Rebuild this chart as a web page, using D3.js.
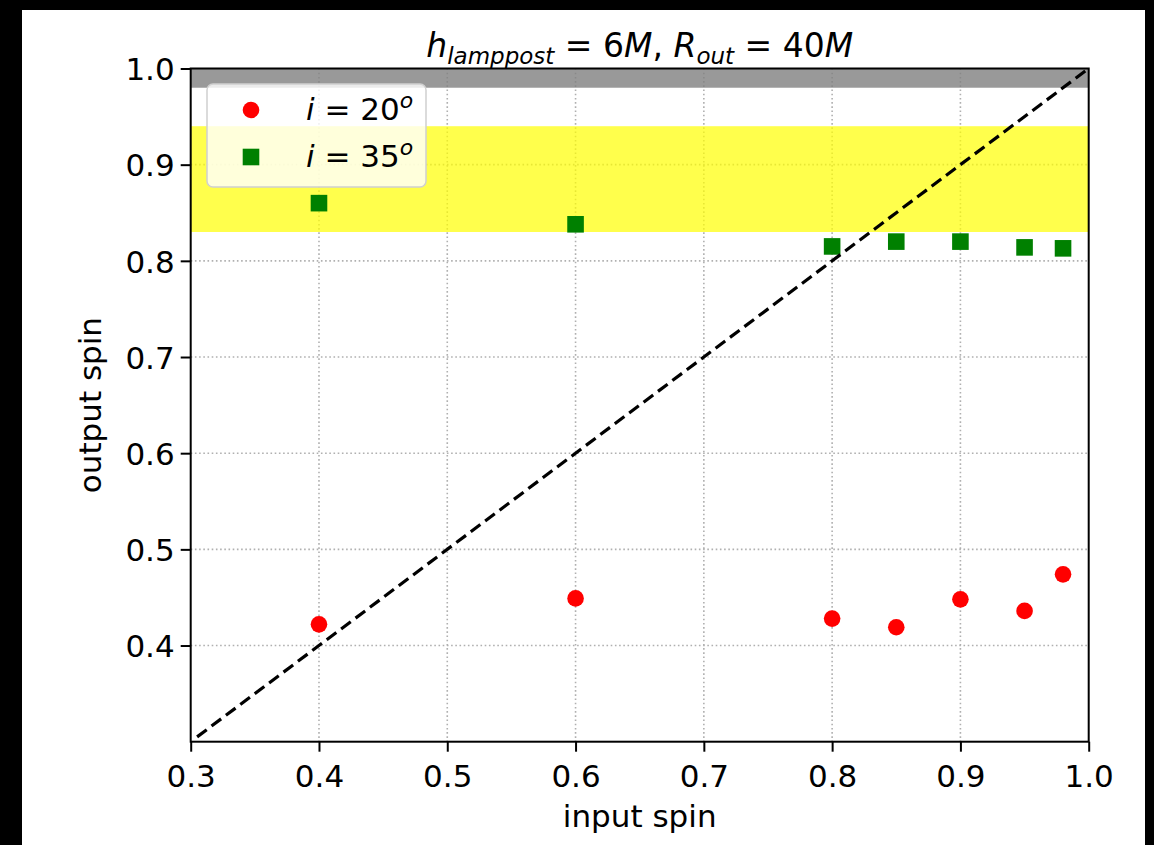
<!DOCTYPE html>
<html lang="en">
<head>
<meta charset="utf-8">
<title>output vs input spin</title>
<script src="https://cdn.jsdelivr.net/npm/d3@7"></script>
<style>
  html, body { margin: 0; padding: 0; background: #000; }
  svg text { font-family: "DejaVu Sans", sans-serif; fill: #000; }
</style>
</head>
<body>
<script>
// values
var inputSpin = [0.4, 0.6, 0.8, 0.85, 0.9, 0.95, 0.98];
var outSpin20 = [0.422, 0.449, 0.428, 0.419, 0.448, 0.436, 0.474];
var outSpin35 = [0.860, 0.838, 0.815, 0.820, 0.820, 0.814, 0.813];
var xTicks = [0.3, 0.4, 0.5, 0.6, 0.7, 0.8, 0.9, 1.0];
var yTicks = [0.4, 0.5, 0.6, 0.7, 0.8, 0.9, 1.0];
var grayBand = [0.98, 1.0];
var yellowBand = [0.83, 0.94];
var legendAngles = ['20', '35'];

var w = 1154, h = 845;
var plot = {left: 190.7, right: 1088.7, top: 68.5, bottom: 741.7};

var svg = d3.select('body').append('svg').attr('width', w).attr('height', h);
svg.append('rect').attr('width', w).attr('height', h).attr('fill', '#000');
svg.append('rect').attr('x', 22).attr('y', 10).attr('width', 1123).attr('height', h - 10).attr('fill', '#fff');

var x = d3.scaleLinear().domain([0.3, 1.0]).range([plot.left, plot.right]);
var y = d3.scaleLinear().domain([0.3, 1.0]).range([plot.bottom, plot.top]);

// grid
var grid = svg.append('g').attr('stroke', '#b0b0b0').attr('stroke-width', 1.6).attr('stroke-dasharray', '1.6,2.6');
grid.selectAll('.gx').data(xTicks.slice(1, -1)).enter().append('line')
  .attr('x1', function(d) { return x(d); }).attr('x2', function(d) { return x(d); })
  .attr('y1', plot.top).attr('y2', plot.bottom);
grid.selectAll('.gy').data(yTicks.slice(0, -1)).enter().append('line')
  .attr('y1', function(d) { return y(d); }).attr('y2', function(d) { return y(d); })
  .attr('x1', plot.left).attr('x2', plot.right);

// bands
svg.append('rect').attr('x', plot.left).attr('width', plot.right - plot.left)
  .attr('y', y(grayBand[1])).attr('height', y(grayBand[0]) - y(grayBand[1]))
  .attr('fill', '#808080').attr('fill-opacity', 0.8);
svg.append('rect').attr('x', plot.left).attr('width', plot.right - plot.left)
  .attr('y', y(yellowBand[1])).attr('height', y(yellowBand[0]) - y(yellowBand[1]))
  .attr('fill', '#ffff00').attr('fill-opacity', 0.7);

// markers
svg.selectAll('.p20').data(inputSpin).enter().append('circle')
  .attr('cx', function(d) { return x(d); })
  .attr('cy', function(d, i) { return y(outSpin20[i]); })
  .attr('r', 8.3).attr('fill', '#ff0000');
svg.selectAll('.p35').data(inputSpin).enter().append('rect')
  .attr('x', function(d) { return x(d) - 8.3; })
  .attr('y', function(d, i) { return y(outSpin35[i]) - 8.3; })
  .attr('width', 16.6).attr('height', 16.6).attr('fill', '#008000');

// one-to-one line
var line = d3.line().x(function(d) { return x(d); }).y(function(d) { return y(d); });
svg.append('path').datum([0.305, 1.0]).attr('d', line)
  .attr('fill', 'none').attr('stroke', '#000').attr('stroke-width', 3.2).attr('stroke-dasharray', '12,6');

// axes
var xAxis = d3.axisBottom(x).tickValues(xTicks).tickFormat(d3.format('.1f')).tickSize(10).tickPadding(6);
var yAxis = d3.axisLeft(y).tickValues(yTicks).tickFormat(d3.format('.1f')).tickSize(10).tickPadding(6);

var gx = svg.append('g').attr('transform', 'translate(0,' + plot.bottom + ')').call(xAxis);
var gy = svg.append('g').attr('transform', 'translate(' + plot.left + ',0)').call(yAxis);
[gx, gy].forEach(function(g) {
  g.select('.domain').remove();
  g.selectAll('.tick line').attr('stroke', '#000').attr('stroke-width', 2);
  g.selectAll('.tick text').attr('font-size', 31).attr('font-family', '"DejaVu Sans", sans-serif').attr('fill', '#000');
});
gx.selectAll('.tick text').attr('dy', '0.95em');
gy.selectAll('.tick text').attr('dy', '0.36em');

svg.append('rect').attr('x', plot.left).attr('y', plot.top)
  .attr('width', plot.right - plot.left).attr('height', plot.bottom - plot.top)
  .attr('fill', 'none').attr('stroke', '#000').attr('stroke-width', 2);

// labels
svg.append('text').attr('x', (plot.left + plot.right) / 2).attr('y', 827)
  .attr('text-anchor', 'middle').attr('font-size', 31).text('input spin');
svg.append('text').attr('transform', 'translate(101,' + ((plot.top + plot.bottom) / 2) + ') rotate(-90)')
  .attr('text-anchor', 'middle').attr('font-size', 31).text('output spin');

var title = svg.append('text').attr('x', (plot.left + plot.right) / 2).attr('y', 57)
  .attr('text-anchor', 'middle').attr('font-size', 33);
title.append('tspan').attr('font-style', 'italic').text('h');
title.append('tspan').attr('font-style', 'italic').attr('font-size', 23).attr('dy', 7).text('lamppost');
title.append('tspan').attr('dy', -7).text(' = 6');
title.append('tspan').attr('font-style', 'italic').text('M');
title.append('tspan').text(', ');
title.append('tspan').attr('font-style', 'italic').text('R');
title.append('tspan').attr('font-style', 'italic').attr('font-size', 23).attr('dy', 7).text('out');
title.append('tspan').attr('dy', -7).text(' = 40');
title.append('tspan').attr('font-style', 'italic').text('M');

// legend
var lg = svg.append('g');
lg.append('rect').attr('x', 207).attr('y', 84).attr('width', 219).attr('height', 103).attr('rx', 6)
  .attr('fill', '#fff').attr('fill-opacity', 0.8).attr('stroke', '#d0d0d0').attr('stroke-width', 1.5);
lg.append('circle').attr('cx', 251).attr('cy', 110).attr('r', 8.3).attr('fill', '#ff0000');
lg.append('rect').attr('x', 251 - 8.3).attr('y', 157 - 8.3).attr('width', 16.6).attr('height', 16.6).attr('fill', '#008000');
legendAngles.forEach(function(a, i) {
  var t = lg.append('text').attr('x', 306).attr('y', 120 + i * 47).attr('font-size', 31);
  t.append('tspan').attr('font-style', 'italic').text('i');
  t.append('tspan').text(' = ' + a);
  t.append('tspan').attr('font-style', 'italic').attr('font-size', 22).attr('dy', -12).text('o');
});
</script>
</body>
</html>
